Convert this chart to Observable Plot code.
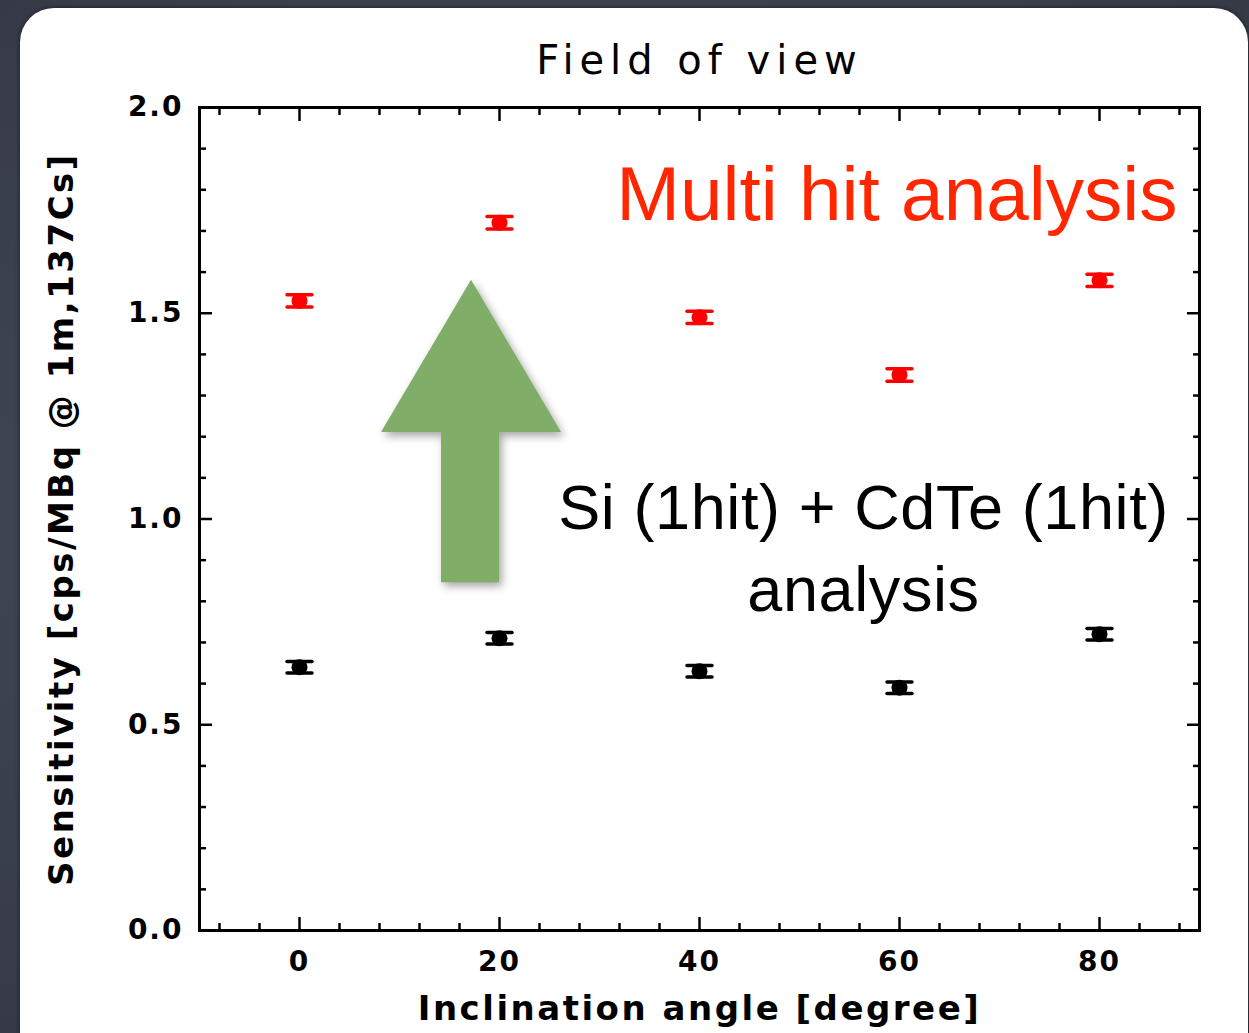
<!DOCTYPE html>
<html>
<head>
<meta charset="utf-8">
<script src="https://cdn.jsdelivr.net/npm/d3@7"></script>
<script src="https://cdn.jsdelivr.net/npm/@observablehq/plot@0.6"></script>
<style>
  html, body { margin: 0; padding: 0; }
  body {
    width: 1249px; height: 1033px; overflow: hidden; position: relative;
    background: radial-gradient(ellipse at 50% 50%, #4a4f5c 0%, #3e4350 70%, #353a46 100%);
  }
  #panel {
    position: absolute; left: 20px; top: 8px; width: 1228px; height: 1070px;
    background: #fff; border-radius: 34px;
    box-shadow: 0 0 5px rgba(0,0,0,0.55);
  }
  #chart { position: absolute; left: 0; top: 0; }
</style>
</head>
<body>
<div id="panel"></div>
<div id="chart"></div>
<script>
// Sensitivity versus inclination angle, two analysis methods
const angles = [0, 20, 40, 60, 80];
const multiHit = [1.53, 1.72, 1.49, 1.35, 1.58];
const multiHitErr = [0.015, 0.015, 0.015, 0.015, 0.015];
const singleHit = [0.64, 0.71, 0.63, 0.59, 0.72];
const singleHitErr = [0.014, 0.014, 0.014, 0.014, 0.014];

const xMajorTicks = [0, 20, 40, 60, 80];
const yMajorTicks = [0.0, 0.5, 1.0, 1.5, 2.0];

const titleText = "Field of view";
const xLabel = "Inclination angle [degree]";
const yLabel = "Sensitivity [cps/MBq @ 1m,137Cs]";
const multiLabel = "Multi hit analysis";
const singleLabel = "Si (1hit) + CdTe (1hit)\nanalysis";

// Outline of the upward arrow, in data coordinates
const arrowX = [17.2, 26.2, 20.0, 20.0, 14.2, 14.2, 8.2];
const arrowY = [1.58, 1.21, 1.21, 0.845, 0.845, 1.21, 1.21];

const xMinorTicks = d3.range(-8, 90, 4).filter(v => !xMajorTicks.includes(v));
const yMinorTicks = d3.range(1, 20).map(v => v / 10).filter(v => v * 2 % 1 !== 0);

const multiRows = angles.map((a, i) => ({angle: a, value: multiHit[i], err: multiHitErr[i]}));
const singleRows = angles.map((a, i) => ({angle: a, value: singleHit[i], err: singleHitErr[i]}));

// Horizontal error-bar cap drawn as a symbol
const capSymbol = {
  draw(context, size) {
    const w = Math.sqrt(size / Math.PI);
    context.moveTo(-w, 0);
    context.lineTo(w, 0);
  }
};

function errorMarks(rows, color) {
  return [
    Plot.ruleX(rows, {x: "angle", y1: d => d.value - d.err, y2: d => d.value + d.err, stroke: color, strokeWidth: 3}),
    Plot.dot(rows, {x: "angle", y: d => d.value - d.err, symbol: capSymbol, r: 12.5, stroke: color, strokeWidth: 3.5, strokeLinecap: "round", fill: "none"}),
    Plot.dot(rows, {x: "angle", y: d => d.value + d.err, symbol: capSymbol, r: 12.5, stroke: color, strokeWidth: 3.5, strokeLinecap: "round", fill: "none"}),
    Plot.dot(rows, {x: "angle", y: "value", r: 8, fill: color, stroke: "none"})
  ];
}

const emptyFormat = () => "";
const tickStyle = {stroke: "#000", strokeWidth: 2.5};
const sansFont = "'Liberation Sans', Arial, sans-serif";

const chart = Plot.plot({
  width: 1249,
  height: 1033,
  marginLeft: 199,
  marginRight: 50,
  marginTop: 107,
  marginBottom: 103,
  style: {background: "transparent", fontFamily: "'DejaVu Sans', sans-serif", color: "#000", overflow: "visible"},
  x: {domain: [-10, 90]},
  y: {domain: [0, 2]},
  marks: [
    // ticks on all four sides, pointing inward
    Plot.axisX({anchor: "bottom", ticks: xMajorTicks, tickSize: -13, tickPadding: 34, fontSize: 28, fontWeight: "bold", tickFormat: d3.format("d"), label: null, ...tickStyle}),
    Plot.axisX({anchor: "bottom", ticks: xMinorTicks, tickSize: -7, tickFormat: emptyFormat, label: null, ...tickStyle}),
    Plot.axisX({anchor: "top", ticks: xMajorTicks, tickSize: -13, tickFormat: emptyFormat, label: null, ...tickStyle}),
    Plot.axisX({anchor: "top", ticks: xMinorTicks, tickSize: -7, tickFormat: emptyFormat, label: null, ...tickStyle}),
    Plot.axisY({anchor: "left", ticks: yMajorTicks, tickSize: -13, tickPadding: 29, fontSize: 28, fontWeight: "bold", tickFormat: d3.format(".1f"), label: null, ...tickStyle}),
    Plot.axisY({anchor: "left", ticks: yMinorTicks, tickSize: -7, tickFormat: emptyFormat, label: null, ...tickStyle}),
    Plot.axisY({anchor: "right", ticks: yMajorTicks, tickSize: -13, tickFormat: emptyFormat, label: null, ...tickStyle}),
    Plot.axisY({anchor: "right", ticks: yMinorTicks, tickSize: -7, tickFormat: emptyFormat, label: null, ...tickStyle}),
    Plot.frame({stroke: "#000", strokeWidth: 3}),

    // measurements
    ...errorMarks(multiRows, "#ff0000"),
    ...errorMarks(singleRows, "#000000"),

    // annotations
    Plot.text([multiLabel], {x: 87.8, y: 1.785, text: d => d, textAnchor: "end", lineAnchor: "middle", fontSize: 76.5, fontFamily: sansFont, fill: "#ff2600"}),
    Plot.text([singleLabel], {x: 56.4, y: 0.94, text: d => d, textAnchor: "middle", lineAnchor: "middle", fontSize: 63, lineHeight: 1.3, fontFamily: sansFont, fill: "#000"}),

    // title and axis labels
    Plot.text([titleText], {frameAnchor: "top", dy: -46, text: d => d, textAnchor: "middle", lineAnchor: "middle", fontSize: 40}),
    Plot.text([xLabel], {frameAnchor: "bottom", dy: 79, text: d => d, textAnchor: "middle", lineAnchor: "middle", fontSize: 34, fontWeight: "bold"}),
    Plot.text([yLabel], {frameAnchor: "left", dx: -137, text: d => d, textAnchor: "middle", lineAnchor: "middle", rotate: -90, fontSize: 34, fontWeight: "bold"})
  ]
});

// Green arrow, placed through the plot's own x and y scales, beneath the axes
const sx = chart.scale("x"), sy = chart.scale("y");
const arrowPoints = arrowX.map((x, i) => [sx.apply(x), sy.apply(arrowY[i])].join(",")).join(" ");
d3.select(chart).insert("polygon", "g")
  .attr("points", arrowPoints)
  .attr("fill", "#80ad68")
  .style("filter", "drop-shadow(3px 4px 4px rgba(0,0,0,0.35))");

// Letter spacing for the title, axis labels and tick labels
const spacing = new Map([[titleText, 6], [xLabel, 2.5], [yLabel, 2.5]]);
d3.select(chart).selectAll("text").each(function() {
  const t = this.textContent;
  if (spacing.has(t)) this.setAttribute("letter-spacing", spacing.get(t));
  else if (/^\d+(\.\d)?$/.test(t)) this.setAttribute("letter-spacing", 2);
  else if (t.startsWith("Si (") || t === "analysis") this.setAttribute("letter-spacing", 0.6);
});

document.getElementById("chart").appendChild(chart);
</script>
</body>
</html>
